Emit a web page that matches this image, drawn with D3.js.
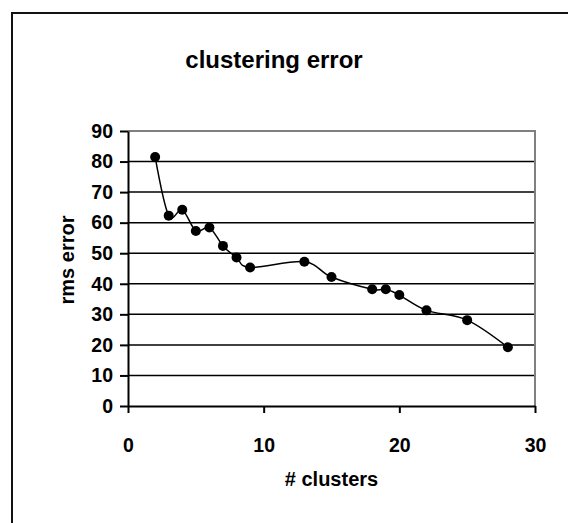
<!DOCTYPE html>
<html>
<head>
<meta charset="utf-8">
<script src="https://cdn.jsdelivr.net/npm/d3@7"></script>
<style>
  body { margin: 0; background: #fff; }
  text { font-family: "Liberation Sans", Arial, sans-serif; font-weight: bold; fill: #000; }
</style>
</head>
<body>
<div id="chart"></div>
<script>
// values
var clusters = [2, 3, 4, 5, 6, 7, 8, 9, 13, 15, 18, 19, 20, 22, 25, 28];
var rmsError = [81.5, 62.3, 64.2, 57.3, 58.4, 52.4, 48.6, 45.3, 47.2, 42.2, 38.2, 38.2, 36.3, 31.3, 28.1, 19.2];
var xTicks = [0, 10, 20, 30];
var yTicks = [0, 10, 20, 30, 40, 50, 60, 70, 80, 90];

var width = 568, height = 523;
var plot = { left: 128, right: 535, top: 131, bottom: 406 };

var svg = d3.select('#chart').append('svg')
  .attr('width', width)
  .attr('height', height);

// outer chart border (cropped at right and bottom)
svg.append('rect')
  .attr('x', 12).attr('y', 13)
  .attr('width', 620).attr('height', 620)
  .attr('fill', 'none')
  .attr('stroke', '#111')
  .attr('stroke-width', 2);

var x = d3.scaleLinear().domain([0, 30]).range([plot.left, plot.right]);
var y = d3.scaleLinear().domain([0, 90]).range([plot.bottom, plot.top]);

// gridlines
svg.append('g')
  .selectAll('line')
  .data(yTicks.filter(function (d) { return d > 0 && d < 90; }))
  .enter().append('line')
  .attr('x1', plot.left).attr('x2', plot.right)
  .attr('y1', function (d) { return y(d); })
  .attr('y2', function (d) { return y(d); })
  .attr('stroke', '#000')
  .attr('stroke-width', 1.5);

// grey plot-area border on top and right
svg.append('path')
  .attr('d', 'M' + plot.left + ',' + y(90) + 'H' + plot.right + 'V' + plot.bottom)
  .attr('fill', 'none')
  .attr('stroke', '#808080')
  .attr('stroke-width', 2);

// axes
var xAxis = svg.append('g')
  .attr('transform', 'translate(0,' + plot.bottom + ')')
  .call(d3.axisBottom(x).tickValues(xTicks).tickSize(7).tickPadding(25).tickSizeOuter(0));
var yAxis = svg.append('g')
  .attr('transform', 'translate(' + plot.left + ',0)')
  .call(d3.axisLeft(y).tickValues(yTicks).tickSize(8).tickPadding(7).tickSizeOuter(0));

[xAxis, yAxis].forEach(function (a) {
  a.select('.domain').attr('stroke', '#000').attr('stroke-width', 2);
  a.selectAll('.tick line').attr('stroke', '#000').attr('stroke-width', 2);
  a.selectAll('.tick text')
    .attr('font-family', '"Liberation Sans", Arial, sans-serif')
    .attr('font-weight', 'bold')
    .attr('font-size', 19.5)
    .attr('fill', '#000');
});

// smoothed line like Excel
var line = d3.line()
  .x(function (d, i) { return x(clusters[i]); })
  .y(function (d) { return y(d); })
  .curve(d3.curveCatmullRom.alpha(0));

svg.append('path')
  .datum(rmsError)
  .attr('d', line)
  .attr('fill', 'none')
  .attr('stroke', '#000')
  .attr('stroke-width', 1.5);

svg.append('g')
  .selectAll('circle')
  .data(rmsError)
  .enter().append('circle')
  .attr('cx', function (d, i) { return x(clusters[i]); })
  .attr('cy', function (d) { return y(d); })
  .attr('r', 5)
  .attr('fill', '#000');

// titles
svg.append('text')
  .attr('x', 274).attr('y', 68)
  .attr('text-anchor', 'middle')
  .attr('font-size', 24)
  .text('clustering error');

svg.append('text')
  .attr('x', (plot.left + plot.right) / 2).attr('y', 486)
  .attr('text-anchor', 'middle')
  .attr('font-size', 20)
  .text('# clusters');

svg.append('text')
  .attr('transform', 'translate(74,' + 260 + ') rotate(-90)')
  .attr('text-anchor', 'middle')
  .attr('font-size', 20)
  .text('rms error');
</script>
</body>
</html>
